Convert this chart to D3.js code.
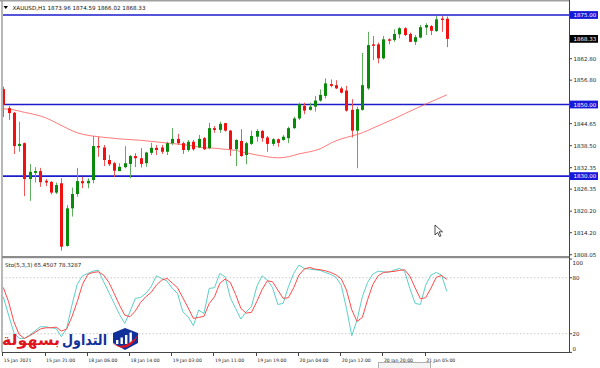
<!DOCTYPE html>
<html><head><meta charset="utf-8">
<script src="https://cdn.jsdelivr.net/npm/d3@7"></script>
<style>html,body{margin:0;padding:0;background:#fff;}svg{display:block;}</style>
</head><body><svg id="c" width="600" height="368"></svg>
<script>
// ---------------- data ----------------
const opens  = [1854.3,1849.0,1847.7,1838.4,1839.2,1829.2,1830.9,1831.4,1828.7,1828.4,1825.4,1828.0,1810.5,1821.0,1825.0,1828.6,1828.0,1828.9,1838.4,1838.0,1834.5,1833.6,1831.4,1832.5,1833.4,1835.6,1835.0,1833.6,1836.5,1837.9,1838.0,1836.8,1839.2,1840.4,1839.2,1837.3,1839.6,1838.0,1840.6,1837.8,1843.4,1842.9,1844.8,1842.7,1837.5,1839.8,1835.9,1839.0,1841.0,1842.6,1840.8,1839.0,1840.3,1840.1,1840.6,1843.4,1846.1,1849.6,1848.5,1849.4,1851.1,1852.4,1855.7,1855.4,1854.5,1853.9,1848.5,1842.7,1848.5,1854.5,1866.8,1866.8,1862.9,1868.2,1868.0,1869.6,1871.3,1869.7,1867.5,1868.7,1871.5,1871.9,1870.5,1874.0,1873.96];
const highs  = [1855.0,1849.6,1847.9,1845.2,1839.4,1833.4,1832.5,1832.3,1829.2,1828.6,1828.2,1829.4,1821.9,1826.8,1832.3,1829.8,1829.4,1841.2,1841.0,1838.7,1835.9,1834.0,1833.6,1838.4,1835.9,1836.4,1837.8,1836.8,1839.3,1838.7,1838.7,1839.6,1843.4,1841.8,1839.6,1840.1,1840.1,1841.5,1840.9,1844.9,1844.0,1845.2,1844.9,1842.9,1840.3,1843.1,1839.6,1842.7,1843.1,1842.9,1841.2,1840.6,1840.5,1841.5,1843.8,1846.6,1850.5,1850.5,1850.5,1852.4,1854.2,1857.3,1857.0,1856.8,1855.0,1855.2,1851.5,1849.4,1864.4,1870.3,1869.1,1867.3,1869.1,1868.5,1871.0,1871.6,1871.6,1870.1,1869.4,1872.2,1872.7,1872.2,1874.7,1874.7,1874.59];
const lows   = [1846.5,1845.7,1836.2,1836.8,1824.4,1823.1,1828.2,1827.0,1827.2,1824.9,1825.0,1809.2,1810.3,1818.7,1824.2,1826.6,1826.6,1828.0,1835.4,1832.8,1832.8,1829.8,1831.4,1832.2,1829.4,1832.5,1832.4,1832.6,1835.9,1835.9,1836.2,1835.9,1838.7,1838.7,1836.2,1836.8,1837.1,1837.8,1837.3,1837.5,1842.1,1842.1,1842.4,1835.6,1832.8,1835.4,1833.3,1838.7,1839.6,1839.6,1836.8,1838.4,1838.2,1839.9,1839.2,1843.2,1845.7,1847.3,1848.3,1848.0,1850.8,1851.7,1854.8,1854.3,1853.1,1848.0,1840.8,1832.2,1848.3,1854.1,1862.4,1861.5,1862.6,1866.8,1867.5,1868.5,1869.1,1867.4,1866.6,1868.5,1869.4,1869.4,1870.3,1870.3,1866.02];
const closes = [1849.9,1847.6,1838.4,1839.0,1829.2,1831.2,1831.4,1828.3,1828.2,1825.4,1827.5,1810.3,1821.0,1825.0,1828.6,1828.0,1828.7,1838.4,1838.0,1834.5,1833.3,1831.5,1832.6,1833.6,1835.6,1835.0,1833.4,1836.6,1837.9,1837.3,1836.8,1839.2,1840.4,1839.2,1837.3,1839.6,1837.5,1840.4,1837.5,1843.4,1842.9,1844.6,1842.7,1837.5,1840.1,1835.6,1839.2,1841.2,1842.6,1840.6,1839.0,1840.3,1839.3,1841.0,1843.4,1846.1,1850.1,1848.3,1849.4,1851.1,1852.7,1855.9,1855.2,1854.5,1853.3,1848.3,1842.7,1848.7,1855.4,1866.6,1866.4,1862.9,1868.2,1867.8,1869.7,1871.3,1869.4,1867.5,1868.8,1871.6,1872.2,1870.6,1873.8,1873.6,1868.33];
// moving average, read every second bar (bars 0,2,4,...,84)
const maValues = [1848.8,1848.5,1847.8,1847.2,1846.3,1844.9,1843.4,1842.1,1841.4,1841.0,1840.7,1840.4,1840.2,1840.0,1839.7,1839.4,1839.1,1838.8,1838.4,1837.9,1837.8,1837.5,1837.2,1836.5,1835.9,1835.4,1835.1,1835.4,1836.2,1836.8,1837.6,1839.2,1840.4,1841.2,1842.1,1843.4,1844.7,1846.0,1847.4,1848.8,1850.1,1851.4,1852.7];
const stochMain = [59.6,40.0,21.4,15.0,15.0,18.6,22.9,27.5,27.5,26.4,25.7,16.8,25.7,50.7,72.9,82.1,84.6,87.1,88.2,75.7,64.3,52.5,40.7,31.1,43.6,57.9,58.9,63.2,70.4,82.1,79.3,76.4,68.6,63.2,43.6,38.2,28.6,45.4,41.8,68.6,69.3,84.6,81.1,58.6,47.1,35.7,43.6,48.9,70.4,82.1,77.5,69.3,51.4,52.5,70.4,84.6,93.6,90.0,89.3,88.6,87.9,85.7,83.6,80.7,72.1,47.1,17.9,34.6,59.6,75.0,83.9,87.1,86.4,85.7,88.2,90.0,87.1,68.6,52.5,51.4,72.1,82.9,85.7,82.9,65.45];
const stochSignal = [69.6,54.3,32.9,19.3,15.0,17.9,21.4,25.0,26.4,26.4,27.1,22.9,25.0,38.2,54.3,72.9,83.6,85.7,86.4,82.9,75.0,63.2,50.7,40.0,38.2,44.3,53.6,59.6,64.3,72.1,77.5,79.3,74.3,69.3,58.6,47.9,36.4,37.5,38.6,52.5,59.6,73.9,78.6,75.0,62.1,47.1,42.1,42.9,54.3,67.1,76.8,75.7,66.8,57.9,58.6,69.3,82.9,89.3,91.1,89.3,88.6,87.5,85.7,83.2,78.9,66.8,45.7,33.2,37.5,56.4,72.9,82.1,85.7,86.4,86.8,87.9,88.6,81.8,69.3,57.5,58.6,68.9,80.4,82.5,78.33];
const priceTicks = ["1808.05","1814.20","1820.20","1826.35","1832.35","1838.50","1844.65","1856.80","1862.80"];
const levelLines = [1875.00, 1850.00, 1830.00];
const lastPrice = 1868.33;
const timeLabels = ["15 Jan 2021","15 Jan 21:00","18 Jan 06:00","18 Jan 14:00","19 Jan 03:00","19 Jan 11:00","19 Jan 19:00","20 Jan 04:00","20 Jan 12:00","20 Jan 20:00","21 Jan 05:00"];
const timeLabelBars = [0,8,16,24,32,40,48,56,64,72,80];
const stochTicks = [100, 80, 20, 0];
const stochLevels = [80, 20];
const title = "XAUUSD,H1  1873.96 1874.59 1866.02 1868.33";
const stochTitle = "Sto(5,3,3) 65.4507 78.3287";

// ---------------- layout ----------------
const svg = d3.select("#c");
const L = 2, R = 569, mainTop = 1, mainBot = 257, subTop = 259, subBot = 352.5;
const font = "DejaVu Sans, Verdana, sans-serif";

const x = d3.scaleLinear().domain([0, 84]).range([3.3, 446.8]);
const y = d3.scaleLinear().domain([1808.05, 1875]).range([254.7, 15]);
const ys = d3.scaleLinear().domain([0, 100]).range([352.4, 259.1]);

svg.append("rect").attr("x",0).attr("y",0).attr("width",600).attr("height",368).attr("fill","#fff");

// frames
svg.append("line").attr("x1",L).attr("x2",L).attr("y1",0).attr("y2",subBot).attr("stroke","#a0a0a0").attr("stroke-width",1.5);
svg.append("line").attr("x1",0).attr("x2",R).attr("y1",0.8).attr("y2",0.8).attr("stroke","#a0a0a0").attr("stroke-width",1.5);
svg.append("rect").attr("x",L).attr("y",256).attr("width",R-L).attr("height",2.2).attr("fill","#8c8c8c");

svg.append("clipPath").attr("id","mc").append("rect").attr("x",L+1).attr("y",mainTop+1).attr("width",R-L-1).attr("height",255-mainTop);
svg.append("clipPath").attr("id","sc").append("rect").attr("x",L+1).attr("y",subTop).attr("width",R-L-1).attr("height",subBot-subTop);

const gMain = svg.append("g").attr("clip-path","url(#mc)");
const gSub = svg.append("g").attr("clip-path","url(#sc)");

// level lines
gMain.selectAll("line.lvl").data(levelLines).join("line")
  .attr("x1",L).attr("x2",R).attr("y1",d=>y(d)).attr("y2",d=>y(d))
  .attr("stroke","#1c1ccc").attr("stroke-width",1.6);

// moving average
const maLine = d3.line().x((d,i)=>x(i*2)).y(d=>y(d)).curve(d3.curveMonotoneX);
gMain.append("path").datum(maValues).attr("d",maLine).attr("fill","none")
  .attr("stroke","#ff5a5a").attr("stroke-opacity",0.8).attr("stroke-width",1);

// candles
const bars = d3.range(opens.length).map(i=>({i,o:opens[i],h:highs[i],l:lows[i],c:closes[i]}));
const col = d => d.c >= d.o ? "#0a8a0a" : "#f01010";
const wickCol = d => d.c >= d.o ? "#5fae5f" : "#f05858";
gMain.selectAll("line.wick").data(bars).join("line")
  .attr("x1",d=>Math.round(x(d.i))+0.5).attr("x2",d=>Math.round(x(d.i))+0.5)
  .attr("y1",d=>y(d.h)).attr("y2",d=>y(d.l))
  .attr("stroke",wickCol).attr("stroke-width",1);
gMain.selectAll("rect.body").data(bars).join("rect")
  .attr("x",d=>Math.round(x(d.i))-1).attr("width",3)
  .attr("y",d=>y(Math.max(d.o,d.c)))
  .attr("height",d=>Math.max(1.2, Math.abs(y(d.o)-y(d.c))))
  .attr("fill",col);

// title
svg.append("path").attr("d","M3.5,6 L8,6 L5.75,9 Z").attr("fill","#000");
svg.append("text").attr("x",12.5).attr("y",9.8).attr("font-family",font).attr("font-size",5.6)
  .attr("fill","#111").attr("textLength",133).attr("lengthAdjust","spacingAndGlyphs").text(title);

// price axis
svg.append("line").attr("x1",R+0.5).attr("x2",R+0.5).attr("y1",0).attr("y2",subBot).attr("stroke","#444").attr("stroke-width",1);
const pt = svg.append("g");
pt.selectAll("line").data(priceTicks).join("line")
  .attr("x1",R).attr("x2",R+3).attr("y1",d=>y(+d)).attr("y2",d=>y(+d)).attr("stroke","#444");
pt.selectAll("text").data(priceTicks).join("text")
  .attr("x",R+4.5).attr("y",d=>y(+d)+2).attr("font-family",font).attr("font-size",5.5).attr("fill","#222").text(d=>d);

// highlighted price labels
const hl = levelLines.map(v=>({v, t:v.toFixed(2), bg:"#1818d8"})).concat([{v:lastPrice,t:lastPrice.toFixed(2),bg:"#000"}]);
const hg = svg.append("g").selectAll("g").data(hl).join("g");
hg.append("rect").attr("x",R+1).attr("y",d=>y(d.v)-3.9).attr("width",28).attr("height",7.8).attr("fill",d=>d.bg);
hg.append("text").attr("x",R+4.5).attr("y",d=>y(d.v)+2).attr("font-family",font).attr("font-size",5.5).attr("fill","#fff").text(d=>d.t);

// stochastic window
gSub.selectAll("line.lv").data(stochLevels).join("line")
  .attr("x1",L).attr("x2",R).attr("y1",d=>ys(d)).attr("y2",d=>ys(d))
  .attr("stroke","#c8c8c8").attr("stroke-width",1).attr("stroke-dasharray","1.5,2");
const sLine = d3.line().x((d,i)=>x(i)).y(d=>ys(d));
gSub.append("path").datum(stochMain).attr("d",sLine).attr("fill","none").attr("stroke","#5ccfc6").attr("stroke-width",1);
gSub.append("path").datum(stochSignal).attr("d",sLine).attr("fill","none").attr("stroke","#ff4a4a").attr("stroke-width",1);
svg.append("text").attr("x",5).attr("y",266.8).attr("font-family",font).attr("font-size",5.5).attr("fill","#222").text(stochTitle);

const stY = v => Math.min(Math.max(ys(v), 263), 348.5);
svg.append("g").selectAll("line").data(stochTicks).join("line")
  .attr("x1",R).attr("x2",R+3).attr("y1",d=>ys(d)).attr("y2",d=>ys(d)).attr("stroke","#444");
svg.append("g").selectAll("text").data(stochTicks).join("text")
  .attr("x",R+3.5).attr("y",d=>stY(d)+2).attr("font-family",font).attr("font-size",5.5).attr("fill","#222").text(d=>d);

// bottom axis
svg.append("line").attr("x1",L).attr("x2",R+0.5).attr("y1",subBot).attr("y2",subBot).attr("stroke","#444").attr("stroke-width",1);
const tg = svg.append("g");
tg.selectAll("line").data(timeLabelBars).join("line")
  .attr("x1",d=>Math.round(x(d))-0.5).attr("x2",d=>Math.round(x(d))-0.5).attr("y1",subBot).attr("y2",subBot+3.5).attr("stroke","#444");
tg.selectAll("text").data(timeLabels).join("text")
  .attr("x",(d,i)=>x(timeLabelBars[i])+0.5).attr("y",361.5).attr("font-family",font).attr("font-size",4.6).attr("fill","#222").text(d=>d);
svg.append("rect").attr("x",378.5).attr("y",362.5).attr("width",52).attr("height",6).attr("fill","#f4f4f4").attr("stroke","#b0b0b0").attr("stroke-width",1);

// logo watermark
const logo = svg.append("g");
logo.append("text").attr("x",107).attr("y",345).attr("text-anchor","end").attr("font-family","DejaVu Sans").attr("font-weight","bold")
  .attr("font-size",15).attr("fill","#12309a").attr("textLength",45).attr("lengthAdjust","spacingAndGlyphs").text("التداول");
logo.append("text").attr("x",60).attr("y",345).attr("text-anchor","end").attr("font-family","DejaVu Sans").attr("font-weight","bold")
  .attr("font-size",15).attr("fill","#e0141e").attr("textLength",58).attr("lengthAdjust","spacingAndGlyphs").text("بسهولة");
logo.append("path").attr("d","M113,333 L125,328 L138,333 L138,343 L125,350 L113,343 Z").attr("fill","#12309a");
logo.selectAll("rect.b").data([0,1,2,3]).join("rect")
  .attr("x",d=>116+d*4.5).attr("y",d=>340-d*2.5).attr("width",2.4).attr("height",d=>4+d*2.5).attr("fill","#fff");
logo.append("path").attr("d","M112,343 Q124,352 139,334 Q128,356 112,343 Z").attr("fill","#e0141e");

// mouse cursor
svg.append("path").attr("d","M435,225 L435,235 L437.5,232.5 L439.5,236.5 L441,235.8 L439,231.8 L442.5,231.8 Z")
  .attr("fill","#fff").attr("stroke","#000").attr("stroke-width",0.7);
</script>
</body></html>
